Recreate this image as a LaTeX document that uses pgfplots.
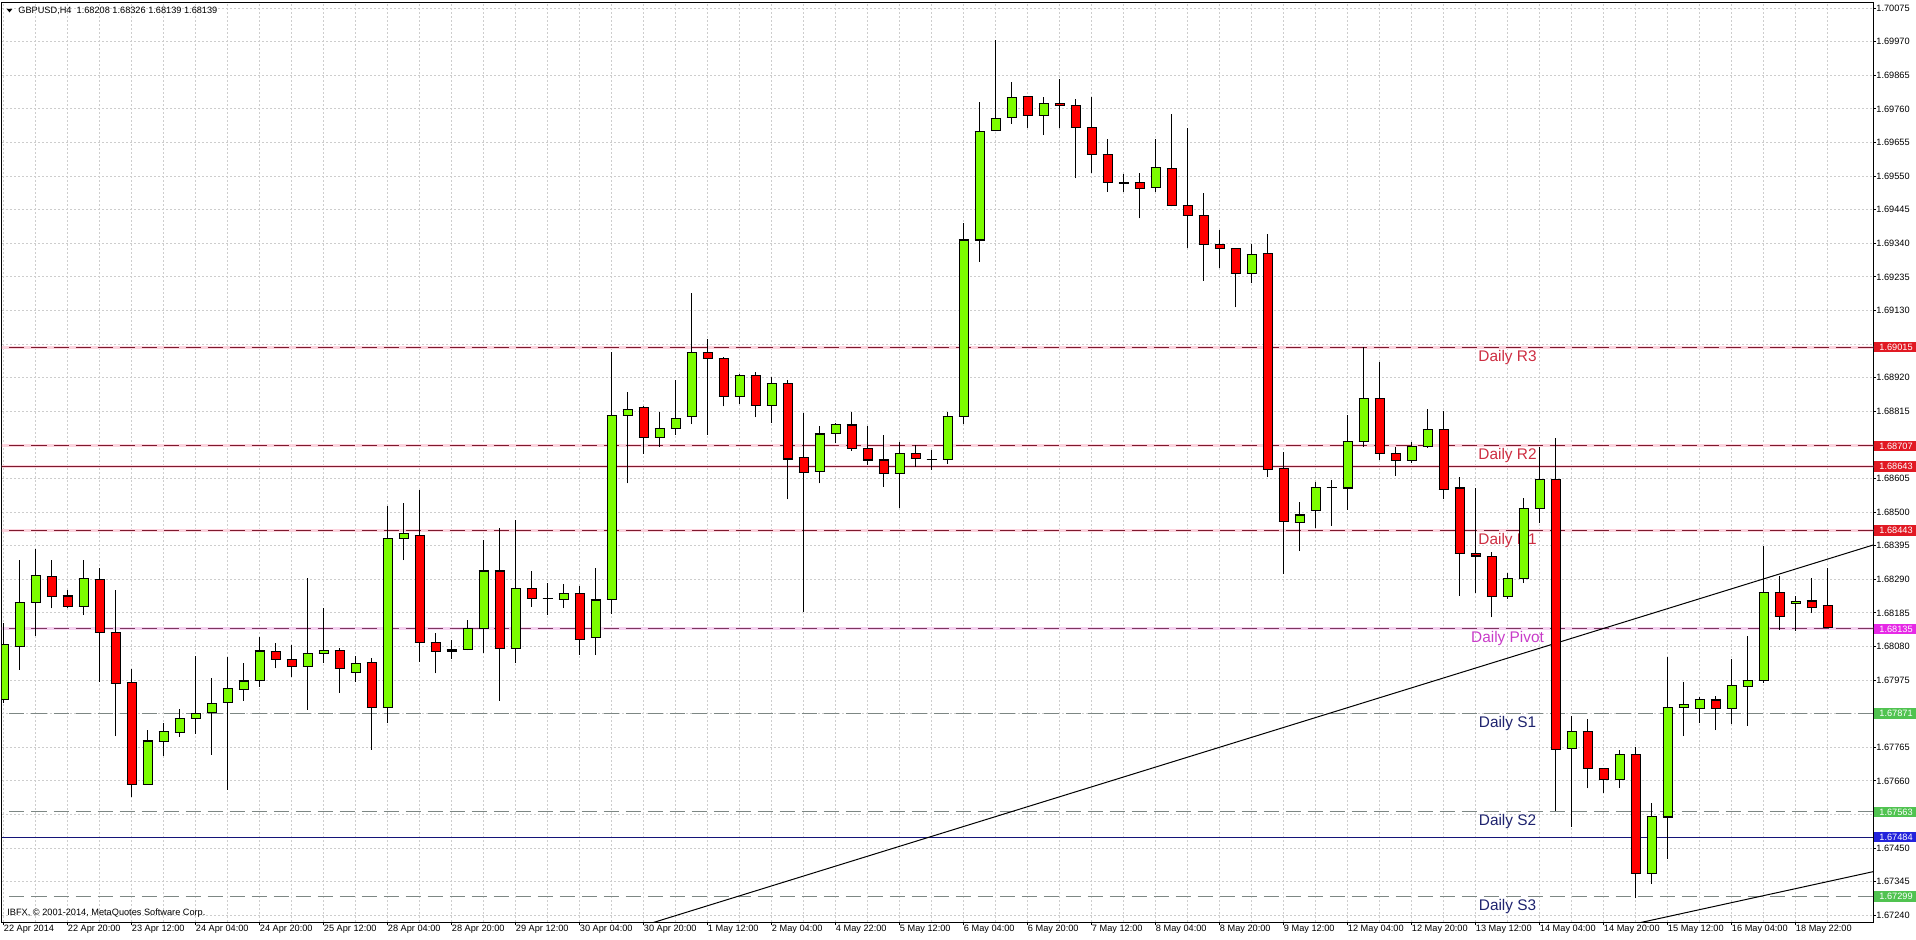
\documentclass[border=0pt]{standalone}
\usepackage{fontspec}
\setmainfont{Liberation Sans}
\usepackage{pgfplots}
\usepackage{pgfplotstable}
\pgfplotsset{compat=1.18}

\definecolor{bull}{RGB}{124,252,0}
\definecolor{bear}{RGB}{255,0,0}
\definecolor{rline}{RGB}{125,25,45}
\definecolor{rhalo}{RGB}{252,212,222}
\definecolor{pline}{RGB}{125,55,95}
\definecolor{phalo}{RGB}{245,210,240}
\definecolor{sline}{RGB}{125,135,132}
\definecolor{navyline}{RGB}{20,20,120}
\definecolor{rtext}{RGB}{205,45,65}
\definecolor{ptext}{RGB}{200,60,200}
\definecolor{stext}{RGB}{30,35,110}
\definecolor{rbox}{RGB}{225,25,35}
\definecolor{pbox}{RGB}{230,40,230}
\definecolor{sbox}{RGB}{80,195,80}
\definecolor{bbox}{RGB}{35,35,220}
\definecolor{gridc}{RGB}{205,205,205}

\newcommand\tickfont{\fontsize{4.6pt}{5.5pt}\selectfont}
\newcommand\lblfont{\fontsize{7.7pt}{9pt}\selectfont}

\pgfplotstableread{
k o h l c
0 1.67915 1.68153 1.67904 1.68085
1 1.68079 1.68350 1.68007 1.68218
2 1.68217 1.68384 1.68113 1.68301
3 1.68298 1.68350 1.68199 1.68236
4 1.68238 1.68257 1.68200 1.68204
5 1.68204 1.68350 1.68178 1.68293
6 1.68290 1.68324 1.67970 1.68123
7 1.68123 1.68257 1.67800 1.67965
8 1.67968 1.68009 1.67611 1.67649
9 1.67649 1.67819 1.67649 1.67785
10 1.67783 1.67840 1.67738 1.67814
11 1.67811 1.67884 1.67798 1.67856
12 1.67856 1.68050 1.67807 1.67871
13 1.67873 1.67981 1.67741 1.67903
14 1.67904 1.68046 1.67632 1.67949
15 1.67946 1.68028 1.67911 1.67972
16 1.67973 1.68109 1.67954 1.68066
17 1.68064 1.68090 1.68012 1.68040
18 1.68040 1.68085 1.67986 1.68017
19 1.68017 1.68293 1.67882 1.68059
20 1.68059 1.68200 1.68028 1.68068
21 1.68068 1.68074 1.67936 1.68012
22 1.67999 1.68050 1.67970 1.68028
23 1.68031 1.68043 1.67757 1.67890
24 1.67890 1.68519 1.67840 1.68418
25 1.68417 1.68528 1.68350 1.68432
26 1.68428 1.68569 1.68033 1.68092
27 1.68092 1.68121 1.67996 1.68064
28 1.68066 1.68100 1.68041 1.68071
29 1.68071 1.68163 1.68069 1.68137
30 1.68137 1.68413 1.68061 1.68316
31 1.68316 1.68449 1.67911 1.68074
32 1.68074 1.68475 1.68028 1.68260
33 1.68260 1.68316 1.68204 1.68231
34 1.68231 1.68279 1.68178 1.68230
35 1.68228 1.68275 1.68200 1.68246
36 1.68246 1.68269 1.68053 1.68103
37 1.68109 1.68324 1.68053 1.68225
38 1.68228 1.69001 1.68182 1.68803
39 1.68803 1.68876 1.68590 1.68821
40 1.68827 1.68830 1.68682 1.68734
41 1.68734 1.68812 1.68704 1.68762
42 1.68762 1.68913 1.68741 1.68793
43 1.68798 1.69184 1.68775 1.68999
44 1.68999 1.69040 1.68741 1.68981
45 1.68981 1.68985 1.68830 1.68861
46 1.68861 1.68930 1.68838 1.68926
47 1.68926 1.68937 1.68796 1.68833
48 1.68833 1.68923 1.68779 1.68903
49 1.68903 1.68913 1.68540 1.68666
50 1.68671 1.68809 1.68189 1.68623
51 1.68628 1.68769 1.68590 1.68744
52 1.68746 1.68778 1.68715 1.68774
53 1.68772 1.68812 1.68692 1.68699
54 1.68699 1.68770 1.68647 1.68663
55 1.68663 1.68741 1.68579 1.68621
56 1.68621 1.68720 1.68514 1.68682
57 1.68684 1.68710 1.68642 1.68668
58 1.68665 1.68694 1.68632 1.68664
59 1.68665 1.68814 1.68650 1.68798
60 1.68798 1.69404 1.68775 1.69350
61 1.69350 1.69783 1.69283 1.69689
62 1.69692 1.69975 1.69690 1.69731
63 1.69734 1.69845 1.69713 1.69796
64 1.69798 1.69800 1.69701 1.69739
65 1.69739 1.69798 1.69678 1.69778
66 1.69778 1.69852 1.69699 1.69770
67 1.69770 1.69790 1.69543 1.69701
68 1.69702 1.69798 1.69559 1.69618
69 1.69618 1.69665 1.69501 1.69529
70 1.69529 1.69557 1.69501 1.69527
71 1.69529 1.69561 1.69418 1.69512
72 1.69514 1.69665 1.69501 1.69577
73 1.69574 1.69744 1.69455 1.69457
74 1.69457 1.69699 1.69324 1.69426
75 1.69426 1.69498 1.69223 1.69337
76 1.69337 1.69382 1.69262 1.69324
77 1.69324 1.69326 1.69140 1.69246
78 1.69246 1.69337 1.69215 1.69306
79 1.69309 1.69369 1.68609 1.68632
80 1.68635 1.68689 1.68306 1.68470
81 1.68468 1.68533 1.68378 1.68491
82 1.68504 1.68595 1.68451 1.68578
83 1.68578 1.68600 1.68457 1.68576
84 1.68575 1.68803 1.68507 1.68720
85 1.68720 1.69017 1.68704 1.68856
86 1.68856 1.68970 1.68663 1.68684
87 1.68684 1.68704 1.68613 1.68661
88 1.68661 1.68720 1.68653 1.68704
89 1.68704 1.68821 1.68700 1.68757
90 1.68757 1.68817 1.68540 1.68571
91 1.68575 1.68609 1.68238 1.68371
92 1.68371 1.68575 1.68248 1.68363
93 1.68361 1.68376 1.68171 1.68236
94 1.68236 1.68309 1.68228 1.68293
95 1.68293 1.68543 1.68278 1.68512
96 1.68512 1.68703 1.68465 1.68603
97 1.68603 1.68731 1.67567 1.67759
98 1.67762 1.67863 1.67517 1.67814
99 1.67814 1.67852 1.67637 1.67699
100 1.67699 1.67701 1.67623 1.67665
101 1.67665 1.67757 1.67639 1.67743
102 1.67743 1.67765 1.67293 1.67371
103 1.67371 1.67592 1.67338 1.67548
104 1.67547 1.68048 1.67415 1.67890
105 1.67890 1.67970 1.67800 1.67899
106 1.67887 1.67923 1.67840 1.67915
107 1.67913 1.67925 1.67819 1.67887
108 1.67887 1.68040 1.67838 1.67958
109 1.67955 1.68114 1.67832 1.67975
110 1.67973 1.68394 1.67967 1.68249
111 1.68249 1.68300 1.68132 1.68173
112 1.68215 1.68238 1.68129 1.68220
113 1.68222 1.68293 1.68184 1.68202
114 1.68208 1.68326 1.68139 1.68139
}\candles

\begin{document}
\begin{tikzpicture}
\path[use as bounding box] (0,0) rectangle (958pt,469.5pt);
\begin{axis}[
  at={(1pt,8.5pt)}, anchor=south west,
  scale only axis, width=935.5pt, height=459.85pt,
  xmin=-0.09375, xmax=116.84, ymin=1.6721905, ymax=1.700931,
  axis line style={black, line width=0.5pt},
  tick align=outside, major tick length=1.5pt, minor tick length=0pt,
  tick style={black, line width=0.5pt},
  xtick pos=left, ytick pos=right, yticklabel pos=right,
  xtick={0,4,...,112}, minor xtick={2,6,...,114},
  xticklabels={22 Apr 2014,22 Apr 20:00,23 Apr 12:00,24 Apr 04:00,24 Apr 20:00,25 Apr 12:00,28 Apr 04:00,28 Apr 20:00,29 Apr 12:00,30 Apr 04:00,30 Apr 20:00,1 May 12:00,2 May 04:00,4 May 22:00,5 May 12:00,6 May 04:00,6 May 20:00,7 May 12:00,8 May 04:00,8 May 20:00,9 May 12:00,12 May 04:00,12 May 20:00,13 May 12:00,14 May 04:00,14 May 20:00,15 May 12:00,16 May 04:00,18 May 22:00},
  ytick={1.67240,1.67345,1.67450,1.67555,1.67660,1.67765,1.67870,1.67975,1.68080,1.68185,1.68290,1.68395,1.68500,1.68605,1.68710,1.68815,1.68920,1.69025,1.69130,1.69235,1.69340,1.69445,1.69550,1.69655,1.69760,1.69865,1.69970,1.70075},
  yticklabels={1.67240,1.67345,1.67450,,1.67660,1.67765,,1.67975,1.68080,1.68185,1.68290,1.68395,1.68500,1.68605,,1.68815,1.68920,,1.69130,1.69235,1.69340,1.69445,1.69550,1.69655,1.69760,1.69865,1.69970,1.70075},
  scaled y ticks=false,
  grid=both,
  major grid style={gridc, dash pattern=on 1pt off 1pt, line width=0.5pt},
  minor grid style={gridc, dash pattern=on 1pt off 1pt, line width=0.5pt},
  xticklabel style={font=\tickfont, anchor=north west, inner sep=0pt},
  yticklabel style={font=\tickfont, anchor=west, inner sep=0pt},
]
% halos
\addplot[rhalo, line width=1.6pt] coordinates {(-1,1.69015) (118,1.69015)};
\addplot[rhalo, line width=1.6pt] coordinates {(-1,1.68707) (118,1.68707)};
\addplot[rhalo, line width=1.6pt] coordinates {(-1,1.68643) (118,1.68643)};
\addplot[rhalo, line width=1.6pt] coordinates {(-1,1.68443) (118,1.68443)};
\addplot[phalo, line width=1.6pt] coordinates {(-1,1.68135) (118,1.68135)};
% pivot levels
\addplot[rline, line width=0.5pt, dash pattern=on 7.5pt off 3.5pt] coordinates {(-1,1.69015) (118,1.69015)};
\addplot[rline, line width=0.5pt, dash pattern=on 7.5pt off 3.5pt] coordinates {(-1,1.68707) (118,1.68707)};
\addplot[rline, line width=0.5pt] coordinates {(-1,1.68643) (118,1.68643)};
\addplot[rline, line width=0.5pt, dash pattern=on 7.5pt off 3.5pt] coordinates {(-1,1.68443) (118,1.68443)};
\addplot[pline, line width=0.5pt, dash pattern=on 7.5pt off 3.5pt] coordinates {(-1,1.68135) (118,1.68135)};
\addplot[sline, line width=0.5pt, dash pattern=on 7.5pt off 3.5pt] coordinates {(-1,1.67871) (118,1.67871)};
\addplot[sline, line width=0.5pt, dash pattern=on 7.5pt off 3.5pt] coordinates {(-1,1.67563) (118,1.67563)};
\addplot[navyline, line width=0.5pt] coordinates {(-1,1.67484) (118,1.67484)};
\addplot[sline, line width=0.5pt, dash pattern=on 7.5pt off 3.5pt] coordinates {(-1,1.67299) (118,1.67299)};
% labels
\node[rtext, font=\lblfont] at (axis cs:94,1.68984) {Daily R3};
\node[rtext, font=\lblfont] at (axis cs:94,1.68676) {Daily R2};
\node[rtext, font=\lblfont] at (axis cs:94,1.68412) {Daily R1};
\node[ptext, font=\lblfont] at (axis cs:94,1.68104) {Daily Pivot};
\node[stext, font=\lblfont] at (axis cs:94,1.67840) {Daily S1};
\node[stext, font=\lblfont] at (axis cs:94,1.67532) {Daily S2};
\node[stext, font=\lblfont] at (axis cs:94,1.67268) {Daily S3};
% trend lines
\addplot[black, line width=0.5pt] coordinates {(38,1.67177) (118,1.68415)};
\addplot[black, line width=0.5pt] coordinates {(100,1.67192) (118,1.67389)};
% candles
\addplot[black, line width=0.5pt, quiver={u=0, v=\thisrow{h}-\thisrow{l}}] table[x=k, y=l] {\candles};
\addplot[black, line width=5pt, quiver={u=0, v=\thisrow{c}-\thisrow{o}}] table[x=k, y=o] {\candles};
\addplot[bear, line width=4pt, quiver={u=0, v=\thisrow{c}-\thisrow{o}}] table[x expr={\thisrow{c}<\thisrow{o} ? \thisrow{k} : nan}, y=o] {\candles};
\addplot[bull, line width=4pt, quiver={u=0, v=\thisrow{c}-\thisrow{o}}] table[x expr={\thisrow{c}>\thisrow{o} ? \thisrow{k} : nan}, y=o] {\candles};
\addplot[black, line width=0.6pt, quiver={u=0.625, v=0}] table[x expr=\thisrow{k}-0.3125, y=o] {\candles};
\addplot[black, line width=0.6pt, quiver={u=0.625, v=0}] table[x expr=\thisrow{k}-0.3125, y=c] {\candles};
% box anchors
\coordinate (bR3) at (axis cs:116.84,1.69015);
\coordinate (bR2) at (axis cs:116.84,1.68707);
\coordinate (bRs) at (axis cs:116.84,1.68643);
\coordinate (bR1) at (axis cs:116.84,1.68443);
\coordinate (bP) at (axis cs:116.84,1.68135);
\coordinate (bS1) at (axis cs:116.84,1.67871);
\coordinate (bS2) at (axis cs:116.84,1.67563);
\coordinate (bN) at (axis cs:116.84,1.67484);
\coordinate (bS3) at (axis cs:116.84,1.67299);
\end{axis}
\foreach \n/\col/\txt in {bR3/rbox/1.69015, bR2/rbox/1.68707, bRs/rbox/1.68643, bR1/rbox/1.68443, bP/pbox/1.68135, bS1/sbox/1.67871, bS2/sbox/1.67563, bN/bbox/1.67484, bS3/sbox/1.67299}{
  \fill[\col] ([xshift=0.6pt,yshift=-2.6pt]\n) rectangle ++(21pt,5.2pt);
  \node[white, font=\tickfont, anchor=west, inner sep=0pt] at ([xshift=3pt]\n) {\txt};
}
\fill[black] (3.35pt,465pt) -- (6.15pt,465pt) -- (4.75pt,463.3pt) -- cycle;
\node[font=\tickfont, anchor=west, inner sep=0pt] at (9pt,464.2pt) {GBPUSD,H4\ \ 1.68208 1.68326 1.68139 1.68139};
\node[font=\tickfont, anchor=west, inner sep=0pt] at (3.5pt,12.85pt) {IBFX, © 2001-2014, MetaQuotes Software Corp.};
\end{tikzpicture}
\end{document}
